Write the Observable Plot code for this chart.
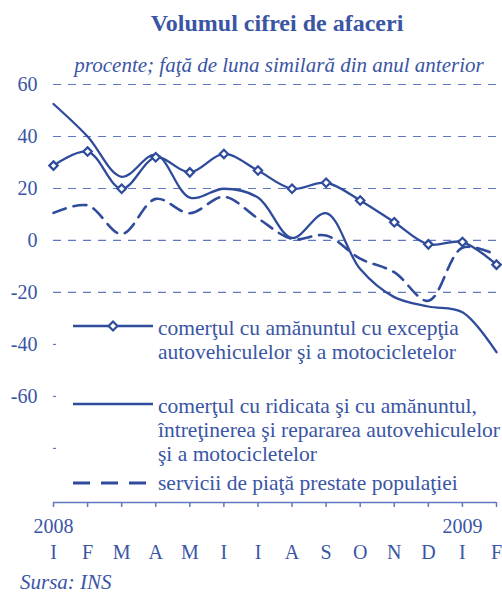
<!DOCTYPE html>
<html>
<head>
<meta charset="utf-8">
<script src="https://cdn.jsdelivr.net/npm/d3@7"></script>
<script src="https://cdn.jsdelivr.net/npm/@observablehq/plot@0.6"></script>
<style>
  html, body { margin: 0; padding: 0; background: #fff; }
  #wrap { position: relative; width: 502px; height: 593px; overflow: hidden; font-family: "Liberation Serif", "Times New Roman", serif; color: #3a55a4; }
  .abs { position: absolute; white-space: nowrap; }
  #title { left: 0; width: 502px; padding-left: 52px; box-sizing: border-box; top: 8px; text-align: center; font-weight: bold; font-size: 24px; line-height: 30px; }
  #subtitle { left: 0; width: 502px; padding-left: 56px; box-sizing: border-box; top: 52px; text-align: center; font-style: italic; font-size: 21px; line-height: 26px; }
  #chart { position: absolute; left: 0; top: 70px; }
  .leg { font-size: 21.5px; line-height: 24px; }
  #source { left: 20px; top: 572px; font-style: italic; font-size: 21px; line-height: 20px; }
</style>
</head>
<body>
<div id="wrap">
  <div id="title" class="abs">Volumul cifrei de afaceri</div>
  <div id="subtitle" class="abs">procente; faţă de luna similară din anul anterior</div>
  <div id="chart"></div>
  <svg class="abs" style="left:0;top:0" width="502" height="593" id="legsvg"></svg>
  <div class="abs leg" style="left:158px;top:316px">comerţul cu amănuntul cu excepţia<br>autovehiculelor şi a motocicletelor</div>
  <div class="abs leg" style="left:158px;top:394px">comerţul cu ridicata şi cu amănuntul,<br>întreţinerea şi repararea autovehiculelor<br>şi a motocicletelor</div>
  <div class="abs leg" style="left:158px;top:471px">servicii de piaţă prestate populaţiei</div>
  <div id="source" class="abs">Sursa: INS</div>
</div>
<script>
// ---- data ----
const months = ["I","F","M","A","M","I","I","A","S","O","N","D","I","F"];
const years = ["2008", "2009"];
const yearIndex = [0, 12];
const retail = [28.8, 34.2, 19.9, 32.0, 26.2, 33.3, 26.9, 19.9, 22.2, 15.4, 7.0, -1.5, -0.6, -9.3];
const wholesale = [52.5, 40.0, 24.5, 33.0, 16.5, 19.9, 16.5, 1.0, 10.5, -11.0, -21.8, -25.4, -27.6, -43.0];
const services = [10.6, 13.5, 2.5, 16.0, 10.5, 16.8, 8.5, 0.6, 1.9, -7.0, -12.2, -23.2, -2.8, -5.6];
const yTicks = [60, 40, 20, 0, -20, -40, -60];
const gridTicks = [60, 40, 20, 0, -20];
const minorTicks = [-40, -60, -80];

const blue = "#2f4b9c";
const textBlue = "#3a55a4";
const gridBlue = "#5f78bf";

const data = months.map((m, i) => ({i, m, retail: retail[i], wholesale: wholesale[i], services: services[i]}));

const chart = Plot.plot({
  width: 502,
  height: 502,
  marginLeft: 53,
  marginRight: 6,
  marginTop: 14,
  marginBottom: 70,
  style: {fontFamily: '"Liberation Serif", "Times New Roman", serif', background: "transparent", overflow: "visible"},
  x: {domain: [0, months.length - 1], axis: null, label: null},
  y: {domain: [-100.8, 60], axis: null, label: null},
  marks: [
    Plot.gridY(gridTicks, {stroke: gridBlue, strokeOpacity: 1, strokeWidth: 1.2, strokeDasharray: "8,7"}),
    Plot.gridY(minorTicks, {stroke: gridBlue, strokeOpacity: 1, strokeWidth: 1.2, strokeDasharray: "3,3000"}),
    Plot.axisY(yTicks, {anchor: "left", label: null, tickSize: 0, tickPadding: 16, fontSize: 20, fill: textBlue, tickFormat: d => String(d)}),
    Plot.ruleY([-100.8], {stroke: gridBlue, strokeWidth: 1.5}),
    Plot.axisX(d3.range(months.length), {anchor: "bottom", label: null, tickSize: 5, tickFormat: () => "", stroke: gridBlue, strokeWidth: 1.5}),
    Plot.axisX(yearIndex, {anchor: "bottom", label: null, tickSize: 0, tickPadding: 16, fontSize: 20, fill: textBlue, tickFormat: (d, k) => years[k]}),
    Plot.axisX(d3.range(months.length), {anchor: "bottom", label: null, tickSize: 0, tickPadding: 42, fontSize: 20, fill: textBlue, tickFormat: d => months[d]}),
    Plot.line(data, {x: "i", y: "services", curve: "catmull-rom", stroke: blue, strokeWidth: 2.6, strokeDasharray: "13,8"}),
    Plot.line(data, {x: "i", y: "wholesale", curve: "catmull-rom", stroke: blue, strokeWidth: 2.3}),
    Plot.line(data, {x: "i", y: "retail", curve: "catmull-rom", stroke: blue, strokeWidth: 2.3}),
    Plot.dot(data, {x: "i", y: "retail", symbol: "diamond2", r: 3.8, fill: "white", stroke: blue, strokeWidth: 2.2})
  ]
});
document.getElementById("chart").appendChild(chart);

// legend swatches
const leg = d3.select("#legsvg");
leg.append("line").attr("x1", 73).attr("x2", 153).attr("y1", 326).attr("y2", 326).attr("stroke", blue).attr("stroke-width", 2.5);
leg.append("path").attr("d", d3.symbol(d3.symbolDiamond2, 50)()).attr("transform", "translate(113,326)").attr("fill", "white").attr("stroke", blue).attr("stroke-width", 2.2);
leg.append("line").attr("x1", 73).attr("x2", 153).attr("y1", 404).attr("y2", 404).attr("stroke", blue).attr("stroke-width", 2.5);
leg.append("line").attr("x1", 73).attr("x2", 147).attr("y1", 483).attr("y2", 483).attr("stroke", blue).attr("stroke-width", 2.8).attr("stroke-dasharray", "17,11");
</script>
</body>
</html>
